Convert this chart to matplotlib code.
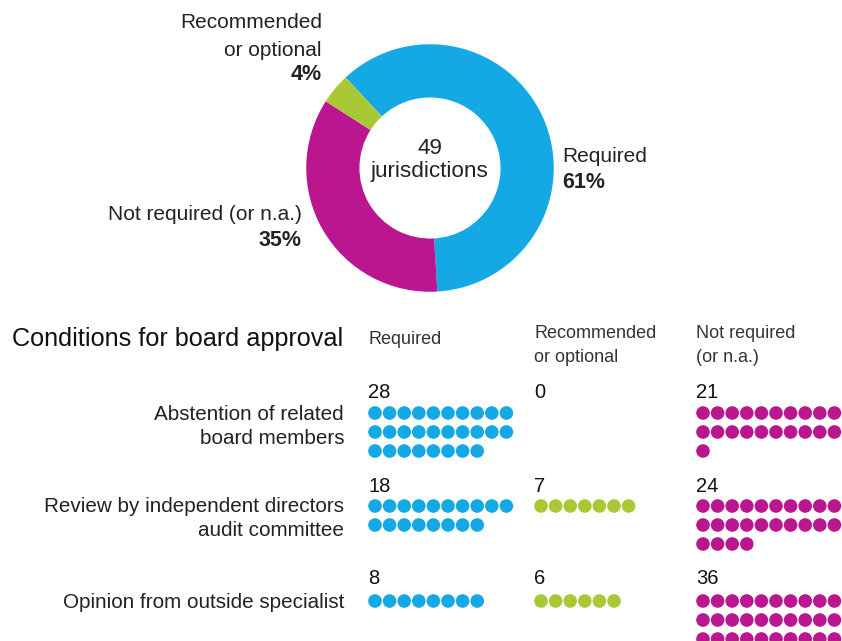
import matplotlib
matplotlib.use("Agg")
import matplotlib.pyplot as plt

plt.rcParams['font.family'] = ['Liberation Sans', 'DejaVu Sans']

# donut: share of jurisdictions
donut_labels = ["Required", "Not required (or n.a.)", "Recommended\nor optional"]
donut_pct = [61, 35, 4]
n_jurisdictions = 49

# conditions for board approval
conditions = ["Abstention of related\nboard members",
              "Review by independent directors\naudit committee",
              "Opinion from outside specialist"]
col_headers = ["Required", "Recommended\nor optional", "Not required\n(or n.a.)"]
required_counts = [28, 18, 8]
recommended_counts = [0, 7, 6]
not_required_counts = [21, 24, 36]

BLUE = "#14a9e5"
MAGENTA = "#ba168f"
LIME = "#a9c836"
TXT = "#222222"

W, H = 842, 641
fig = plt.figure(figsize=(W / 100, H / 100), dpi=100)
ax = fig.add_axes([0, 0, 1, 1])
ax.set_xlim(0, W)
ax.set_ylim(H, 0)
ax.axis("off")

# donut in its own axes (pixel centre 430,168, radius 125)
cx, cy, R = 430, 168, 125
dax = fig.add_axes([(cx - R) / W, 1 - (cy + R) / H, 2 * R / W, 2 * R / H])
dax.pie(donut_pct, colors=[BLUE, MAGENTA, LIME], startangle=133,
        counterclock=False, radius=1,
        wedgeprops=dict(width=0.43, edgecolor="none"))
dax.set_xlim(-1.01, 1.01)
dax.set_ylim(-1.01, 1.01)
dax.set_aspect("equal")
dax.axis("off")

fs = 15
ax.text(cx, 148, str(n_jurisdictions), ha="center", va="center", fontsize=16.2, color=TXT)
ax.text(cx, 172, "jurisdictions", ha="center", va="center", fontsize=16.2, color=TXT)

ax.text(562, 156, donut_labels[0], ha="left", va="center", fontsize=fs, color=TXT)
ax.text(562, 183, f"{donut_pct[0]}%", ha="left", va="center", fontsize=15.5,
        fontweight="bold", color=TXT)
ax.text(302, 214, donut_labels[1], ha="right", va="center", fontsize=fs, color=TXT)
ax.text(302, 240, f"{donut_pct[1]}%", ha="right", va="center", fontsize=15.5,
        fontweight="bold", color=TXT)
rec_lines = donut_labels[2].split("\n")
ax.text(322, 23, rec_lines[0], ha="right", va="center", fontsize=fs, color=TXT)
ax.text(322, 50, rec_lines[1], ha="right", va="center", fontsize=fs, color=TXT)
ax.text(322, 75, f"{donut_pct[2]}%", ha="right", va="center", fontsize=15.5,
        fontweight="bold", color=TXT)

# lower panel
ax.text(12, 339, "Conditions for board approval", ha="left", va="center",
        fontsize=18.2, color="#111111")

col_x = [368, 534, 696]
for x, head in zip(col_x, col_headers):
    lines = head.split("\n")
    if len(lines) == 1:
        ax.text(x, 340, lines[0], ha="left", va="center", fontsize=13, color="#333333")
    else:
        ax.text(x, 334, lines[0], ha="left", va="center", fontsize=13, color="#333333")
        ax.text(x, 357, lines[1], ha="left", va="center", fontsize=13, color="#333333")

row_top = [413, 506, 601]
num_y = [393, 486, 579]
label_gap = 24
dot_dx, dot_dy = 14.6, 19
per_row = 10

for i, cond in enumerate(conditions):
    for j, line in enumerate(cond.split("\n")):
        ax.text(344, row_top[i] + 1 + j * label_gap, line, ha="right", va="center",
                fontsize=14.9, color=TXT)
    for x, counts, color in zip(col_x, [required_counts, recommended_counts, not_required_counts],
                                [BLUE, LIME, MAGENTA]):
        n = counts[i]
        ax.text(x, num_y[i], str(n), ha="left", va="center", fontsize=14.5, color="#111111")
        if n == 0:
            continue
        xs = [x + 7 + (k % per_row) * dot_dx for k in range(n)]
        ys = [row_top[i] + (k // per_row) * dot_dy for k in range(n)]
        ax.scatter(xs, ys, s=96, color=color, edgecolors="none")

fig.savefig("out.png", dpi=100)
